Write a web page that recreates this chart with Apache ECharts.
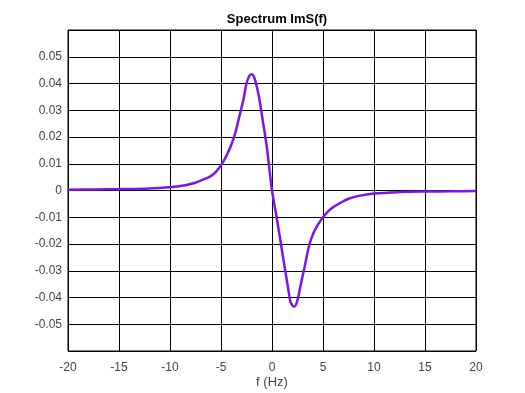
<!DOCTYPE html>
<html>
<head>
<meta charset="utf-8">
<script src="https://cdn.jsdelivr.net/npm/echarts@6/dist/echarts.min.js"></script>
<style>
html,body{margin:0;padding:0;background:#fff;}
#chart{width:525px;height:393px;}
</style>
</head>
<body>
<div id="chart"></div>
<script>
const titleText = "Spectrum ImS(f)";
const xAxisName = "f (Hz)";
const freq = [-20, -17.5, -15, -12.5, -10, -8.5, -7.5, -7, -6, -5.5, -5, -4.5, -4, -3.6, -3.2, -2.8, -2.5, -2.2, -2, -1.8, -1.6, -1.3, -1, -0.5, 0,
  0.5, 1, 1.3, 1.6, 1.8, 2, 2.2, 2.5, 2.8, 3.2, 3.6, 4, 4.5, 5, 5.5, 6, 7, 7.5, 8.5, 10, 12.5, 15, 17.5, 20];
const imS = [0.0003, 0.0004, 0.0005, 0.0007, 0.0012, 0.0020, 0.0029, 0.0037, 0.0054, 0.0070, 0.0094, 0.0127, 0.0170, 0.0215, 0.0277, 0.0340, 0.0400, 0.0430, 0.0435, 0.0428, 0.0405, 0.0355, 0.0285, 0.016, 0,
  -0.011, -0.023, -0.030, -0.037, -0.0415, -0.0430, -0.0434, -0.0410, -0.0355, -0.0285, -0.0212, -0.0165, -0.0128, -0.0100, -0.0078, -0.0062, -0.0040, -0.0031, -0.0020, -0.0011, -0.0006, -0.0004, -0.0003, -0.0002];

const chart = echarts.init(document.getElementById('chart'));
const font = 'Liberation Sans, Arial, sans-serif';
chart.setOption({
  animation: false,
  backgroundColor: '#fff',
  title: {
    text: titleText, left: 272, top: 8, textAlign: 'center',
    textStyle: {fontFamily: font, fontSize: 13, fontWeight: 'bold', color: '#000'}
  },
  grid: {left: 68, right: 49, top: 30, bottom: 42, containLabel: false, outerBoundsMode: 'none',
    show: true, borderColor: '#000', borderWidth: 1},
  xAxis: {
    type: 'value', min: -20, max: 20, interval: 5,
    name: xAxisName, nameLocation: 'middle', nameGap: 25, nameMoveOverlap: false,
    nameTextStyle: {fontFamily: font, fontSize: 13, color: '#444'},
    axisLine: {show: true, lineStyle: {color: '#000'}},
    axisTick: {show: false},
    axisLabel: {fontFamily: font, fontSize: 12, color: '#444', margin: 11},
    splitLine: {show: true, lineStyle: {color: '#000', width: 1}}
  },
  yAxis: {
    type: 'value', min: -0.06, max: 0.06, interval: 0.01,
    axisLine: {show: true, lineStyle: {color: '#000'}},
    axisTick: {show: false},
    axisLabel: {fontFamily: font, fontSize: 12, color: '#444', margin: 6, showMinLabel: false, showMaxLabel: false,
      formatter: v => String(+v.toFixed(2))},
    splitLine: {show: true, lineStyle: {color: '#000', width: 1}}
  },
  series: [{
    type: 'line',
    data: freq.map((f, i) => [f, imS[i]]),
    smooth: 0.3,
    showSymbol: false,
    lineStyle: {color: '#7b14ee', width: 2.5},
    itemStyle: {color: '#7b14ee'}
  }]
});
</script>
</body>
</html>
